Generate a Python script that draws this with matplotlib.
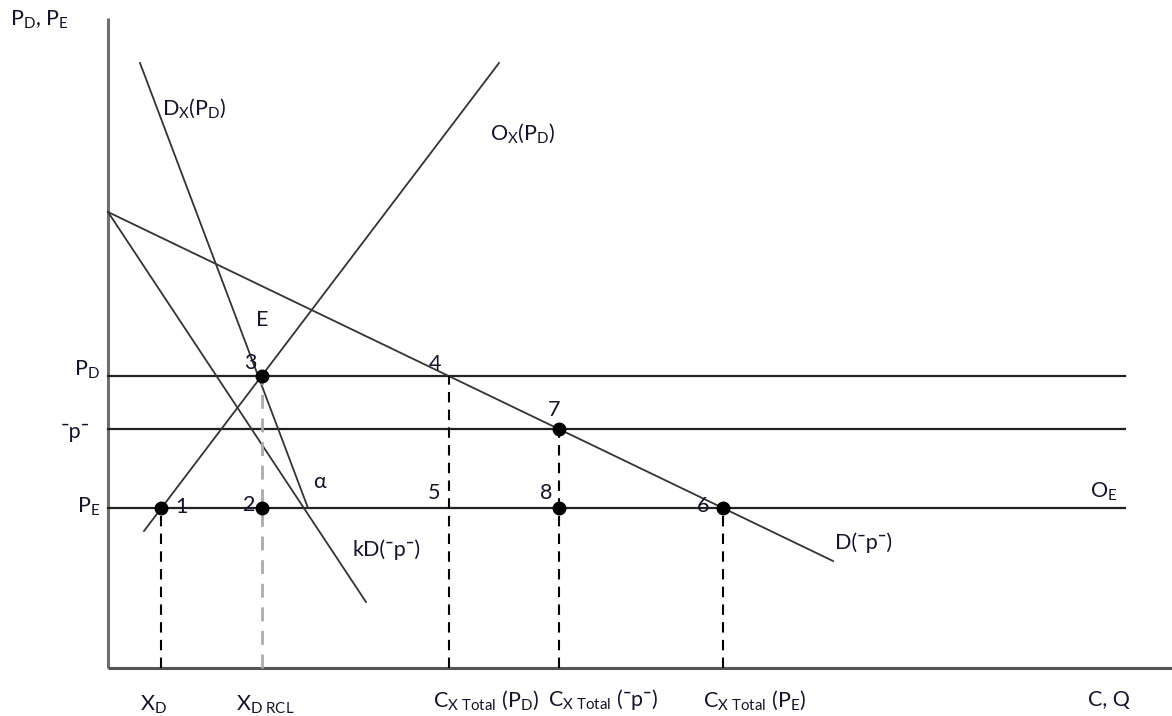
import matplotlib
matplotlib.use("Agg")
import matplotlib.pyplot as plt
import numpy as np

plt.rcParams['font.family'] = ['Lato', 'DejaVu Sans']
plt.rcParams['mathtext.fontset'] = 'custom'
plt.rcParams['mathtext.rm'] = 'Lato'
plt.rcParams['mathtext.it'] = 'Lato:italic'

# ---- data (schematic units, origin at axes corner) ----
price_level_names = ['P_D', 'p_bar', 'P_E']
price_levels = [292, 239, 160]
h_line_end = 1017

demand_D_x = [0, 725]
demand_D_y = [456, 107]
demand_kD_x = [0, 258]
demand_kD_y = [456, 66]
Dx_x = [32, 200]
Dx_y = [605, 160]
Ox_x = [36, 391]
Ox_y = [137, 605]

x_axis_end = 1064
y_axis_end = 650

TXT = '#141428'
FS = 15.5


def x_at(xs, ys, y):
    return xs[0] + (y - ys[0]) * (xs[1] - xs[0]) / (ys[1] - ys[0])


P_D, P_BAR, P_E = price_levels
x1 = x_at(Ox_x, Ox_y, P_E)
x3 = x_at(Ox_x, Ox_y, P_D)
x4 = x_at(demand_D_x, demand_D_y, P_D)
x7 = x_at(demand_D_x, demand_D_y, P_BAR)
x6 = x_at(demand_D_x, demand_D_y, P_E)

fig = plt.figure(figsize=(11.72, 7.16), dpi=100)
ax = fig.add_axes([0, 0, 1, 1])
ax.set_xlim(-108, 1172 - 108)
ax.set_ylim(668 - 716, 668)
ax.axis('off')

# axes
ax.plot([0, 0], [0, y_axis_end], color='#6e6e6e', lw=2.2, solid_capstyle='butt')
ax.plot([0, x_axis_end], [0, 0], color='#555555', lw=2.2, solid_capstyle='butt')

# horizontal price lines
for p in price_levels:
    ax.plot([0, h_line_end], [p, p], color='#222222', lw=1.6)

# curves
ax.plot(demand_D_x, demand_D_y, color='#333333', lw=1.3)
ax.plot(demand_kD_x, demand_kD_y, color='#333333', lw=1.3)
ax.plot(Dx_x, Dx_y, color='#333333', lw=1.3)
ax.plot(Ox_x, Ox_y, color='#333333', lw=1.3)

# dashed verticals
dash = (0, (5, 3.5))
ax.plot([x1, x1], [0, P_E], color='black', lw=1.5, linestyle=dash)
ax.plot([x3, x3], [0, P_D], color='#aaaaaa', lw=2.0, linestyle=dash)
ax.plot([x4, x4], [0, P_D], color='black', lw=1.5, linestyle=dash)
ax.plot([x7, x7], [0, P_BAR], color='black', lw=1.5, linestyle=dash)
ax.plot([x6, x6], [0, P_E], color='black', lw=1.5, linestyle=dash)

# points
pts_x = [x1, x3, x3, x7, x7, x6]
pts_y = [P_E, P_E, P_D, P_BAR, P_E, P_E]
ax.plot(pts_x, pts_y, 'o', color='black', markersize=9, zorder=5)

def t(x, y, s, ha='left', va='center', fs=FS):
    ax.text(x, y, s, ha=ha, va=va, fontsize=fs, color=TXT)

t(-98, 648, r'$\mathregular{P_D}$, $\mathregular{P_E}$')
t(54, 560, r'$\mathregular{D_X(P_D)}$')
t(382, 535, r'$\mathregular{O_X(P_D)}$')
t(148, 348, 'E')
t(142, 305, '3', ha='center')
t(327, 304, '4', ha='center')
t(446, 258, '7', ha='center')
t(326, 175, '5', ha='center')
t(438, 175, '8', ha='center')
t(595, 162, '6', ha='center')
t(73, 161, '1', ha='center')
t(141, 163, '2', ha='center')
t(212, 186, 'α', ha='center')
t(245, 118, 'kD(¯p¯)')
t(727, 125, 'D(¯p¯)')
t(982, 176, r'$\mathregular{O_E}$')

# y labels
t(-8, 298, r'$\mathregular{P_D}$', ha='right')
t(-18, 236, '¯p¯', ha='right')
t(-8, 161, r'$\mathregular{P_E}$', ha='right')

# x labels
t(32, -37, r'$\mathregular{X_D}$')
t(128, -37, r'$\mathregular{X_{D\ RCL}}$')
t(325, -32, r'$\mathregular{C_{X\ Total}\ (P_D)}$')
t(440, -32, r'$\mathregular{C_{X\ Total}\ (¯p¯)}$')
t(595, -32, r'$\mathregular{C_{X\ Total}\ (P_E)}$')
t(980, -32, 'C, Q')

fig.savefig('out.png', dpi=100)
